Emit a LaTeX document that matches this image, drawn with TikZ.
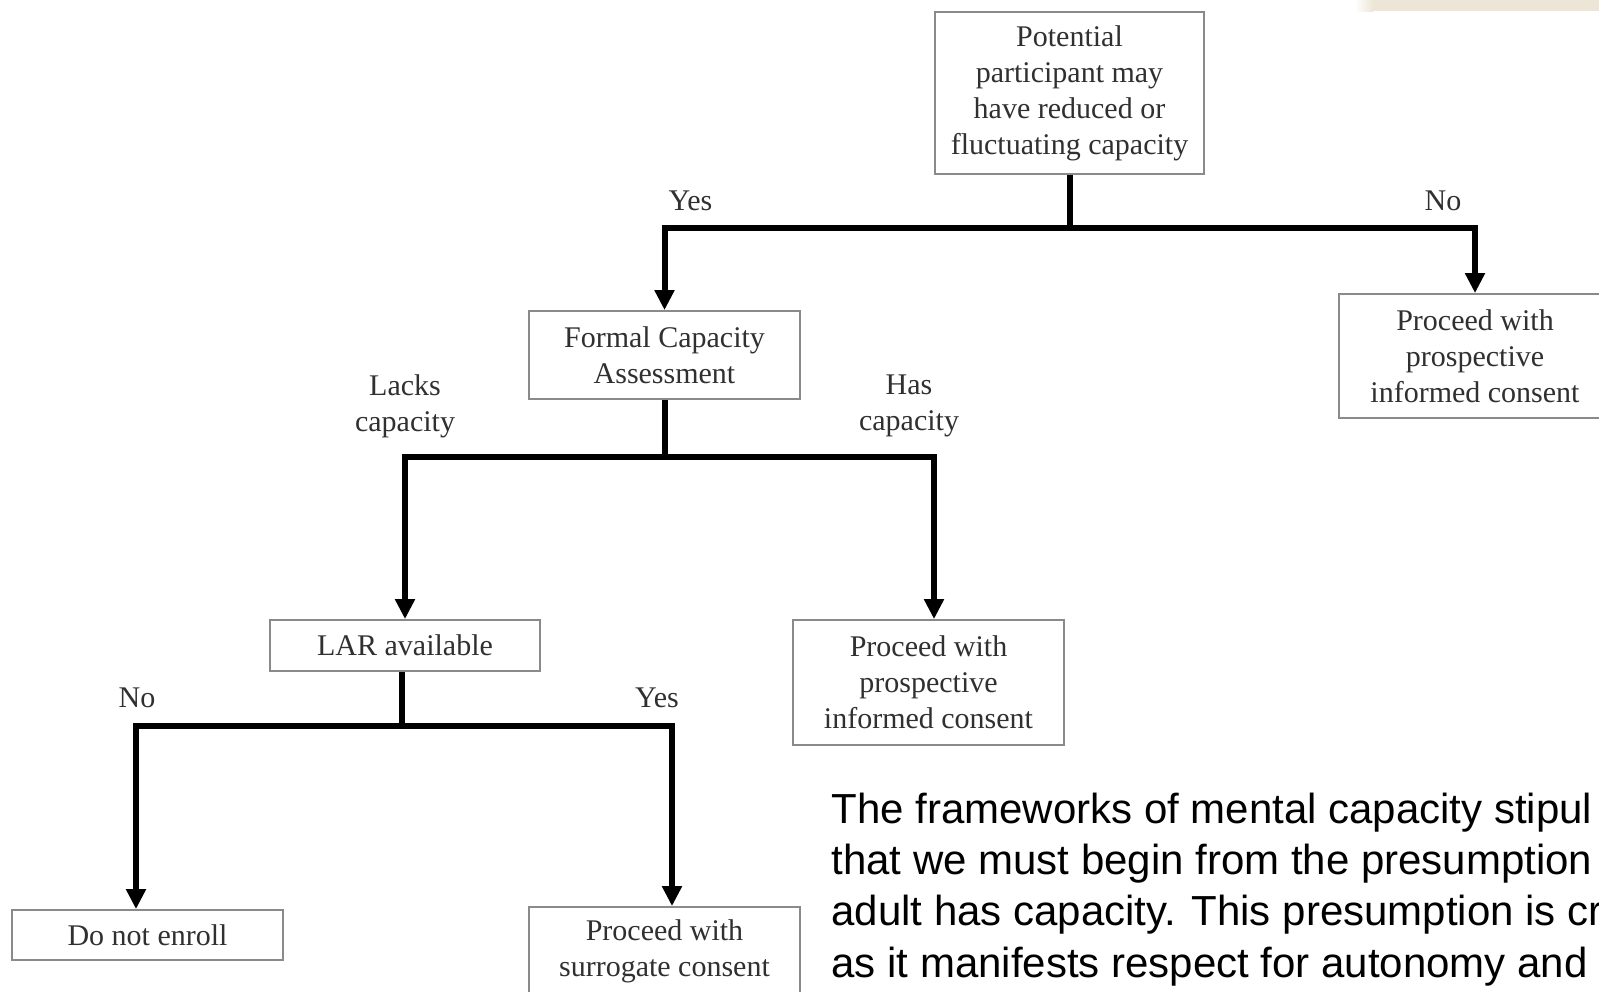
\documentclass[tikz,border=0pt]{standalone}
\usepackage{fontspec}
\setmainfont{Liberation Serif}
\setsansfont{Liberation Sans}
\usetikzlibrary{arrows.meta}
\definecolor{boxgray}{HTML}{8A8A8A}
\definecolor{inkgray}{HTML}{303030}
\definecolor{slidebeige}{HTML}{EDE6D6}
\newcommand{\boxfont}{\fontsize{15}{18}\selectfont}
\newcommand{\slidefont}{\sffamily\fontsize{21}{25.6}\selectfont}

\begin{document}
\begin{tikzpicture}[x=0.5pt,y=-0.5pt,
		box/.style={draw=boxgray, line width=0.9pt, fill=white, align=center, inner sep=1pt, text=inkgray, font=\boxfont},
		lbl/.style={align=center, text=inkgray, font=\boxfont, inner sep=0pt},
		link/.style={line width=3pt},
		arrow/.style={line width=3pt, -{Triangle[width=9.5pt,length=10pt]}},
		slide/.style={anchor=base west, inner sep=0pt, font=\slidefont}]
		\useasboundingbox (0,0) rectangle (1599,991);
		\clip (0,0) rectangle (1599,991);
		\fill[white] (0,0) rectangle (1599,991);
		\shade[left color=white, right color=slidebeige] (1355,0) rectangle (1373,11);
		\fill[slidebeige] (1373,0) rectangle (1599,11);
	
		% boxes
		\node[box, minimum width=134.5pt, minimum height=81pt] (potential) at (1069.5,93) {Potential\\participant may\\have reduced or\\fluctuating capacity};
		\node[box, minimum width=135.5pt, minimum height=44pt] (assess) at (664.5,355) {Formal Capacity\\Assessment};
		\node[box, minimum width=136pt, minimum height=62pt] (consentA) at (1475,356) {Proceed with\\prospective\\informed consent};
		\node[box, minimum width=135pt, minimum height=25.5pt] (lar) at (405,645.5) {LAR available};
		\node[box, minimum width=135.5pt, minimum height=62.5pt] (consentB) at (928.5,682.5) {Proceed with\\prospective\\informed consent};
		\node[box, minimum width=135.5pt, minimum height=25pt] (noenroll) at (147.5,935) {Do not enroll};
		\node[box, minimum width=135.5pt, minimum height=44.5pt] (surrogate) at (664.5,951.5) {Proceed with\\surrogate consent};
	
		% branch levels
		\coordinate (ytop) at (0,227.5);
		\coordinate (ymid) at (0,457);
		\coordinate (ylow) at (0,726);
		\coordinate (larfoot) at ([xshift=-1.5pt]lar.south);
	
		\draw[link] (potential.south) -- (potential.south |- ytop);
		\draw[arrow] (ytop -| potential.south) -| (assess.north);
		\draw[arrow] (ytop -| potential.south) -| (consentA.north);
	
		\draw[link] (assess.south) -- (assess.south |- ymid);
		\draw[arrow] (ymid -| assess.south) -| (lar.north);
		\draw[arrow] (ymid -| assess.south) -| ([xshift=2.75pt]consentB.north);
	
		\draw[link] (larfoot) -- (larfoot |- ylow);
		\draw[arrow] (ylow -| larfoot) -| ([xshift=-5.75pt]noenroll.north);
		\draw[arrow] (ylow -| larfoot) -| ([xshift=3.75pt]surrogate.north);
	
		% labels
		\node[lbl] (yes1) at (690.5,201) {Yes};
		\node[lbl] (no1) at (1443,201) {No};
		\node[lbl] (lacks) at (405,406) {Lacks\\capacity};
		\node[lbl] (has) at (909,406) {Has\\capacity};
		\node[lbl] (no2) at (137,698) {No};
		\node[lbl] (yes2) at (657,698) {Yes};
	
		% slide text
		\node[slide] (line1) at (831,823) {The frameworks of mental capacity stipul};
		\node[slide] (line2) at (831,874.3) {that we must begin from the presumption};
		\node[slide] (line3) at (831,925.6) {adult has capacity. This presumption is cr};
		\node[slide] (line4) at (831,977) {as it manifests respect for autonomy and};
	\end{tikzpicture}
\end{document}
